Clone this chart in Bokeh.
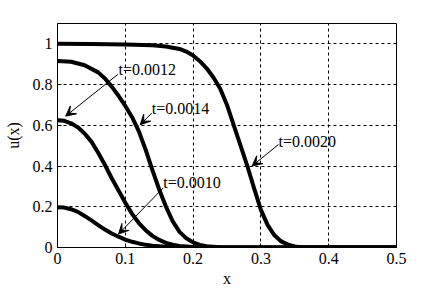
from bokeh.plotting import figure
from bokeh.models import FixedTicker, Label, Arrow, VeeHead, Range1d
from bokeh.embed import file_html
from bokeh.resources import INLINE

# ---- data ----
x_t0010 = [0, 0.01, 0.02, 0.03, 0.04, 0.05, 0.06, 0.07, 0.08, 0.09, 0.10, 0.11, 0.12, 0.13, 0.14, 0.16, 0.18, 0.20, 0.5]
u_t0010 = [0.198, 0.196, 0.188, 0.175, 0.155, 0.133, 0.11, 0.088, 0.069, 0.053, 0.039, 0.028, 0.02, 0.013, 0.009, 0.004, 0.001, 0, 0]

x_t0012 = [0, 0.01, 0.02, 0.03, 0.04, 0.05, 0.06, 0.07, 0.08, 0.09, 0.10, 0.11, 0.12, 0.13, 0.14, 0.15, 0.16, 0.17, 0.18, 0.20, 0.22, 0.5]
u_t0012 = [0.625, 0.622, 0.61, 0.59, 0.56, 0.52, 0.465, 0.405, 0.34, 0.28, 0.22, 0.165, 0.12, 0.085, 0.057, 0.037, 0.023, 0.014, 0.008, 0.002, 0, 0]

x_t0014 = [0, 0.02, 0.04, 0.06, 0.07, 0.08, 0.09, 0.10, 0.11, 0.12, 0.13, 0.14, 0.15, 0.16, 0.17, 0.18, 0.19, 0.20, 0.21, 0.22, 0.24, 0.26, 0.5]
u_t0014 = [0.916, 0.912, 0.895, 0.86, 0.83, 0.79, 0.745, 0.695, 0.64, 0.57, 0.48, 0.38, 0.285, 0.2, 0.128, 0.077, 0.045, 0.025, 0.013, 0.006, 0.001, 0, 0]

x_t0020 = [0, 0.05, 0.10, 0.14, 0.16, 0.18, 0.19, 0.20, 0.21, 0.22, 0.23, 0.24, 0.25, 0.26, 0.27, 0.28, 0.29, 0.30, 0.31, 0.32, 0.33, 0.34, 0.35, 0.36, 0.38, 0.5]
u_t0020 = [1.0, 0.999, 0.997, 0.993, 0.987, 0.975, 0.962, 0.943, 0.915, 0.88, 0.835, 0.78, 0.70, 0.60, 0.50, 0.40, 0.29, 0.185, 0.11, 0.06, 0.03, 0.014, 0.005, 0.001, 0, 0]

x_ticks = [0, 0.1, 0.2, 0.3, 0.4, 0.5]
y_ticks = [0, 0.2, 0.4, 0.6, 0.8, 1.0]

ann_text = ["t=0.0012", "t=0.0014", "t=0.0020", "t=0.0010"]
ann_x = [0.090, 0.139, 0.326, 0.156]
ann_y = [0.872, 0.685, 0.522, 0.318]
arr_x0 = [0.089, 0.139, 0.326, 0.156]
arr_y0 = [0.850, 0.660, 0.506, 0.293]
arr_x1 = [0.012, 0.122, 0.287, 0.090]
arr_y1 = [0.645, 0.603, 0.400, 0.066]

FONT = "Liberation Serif"

p = figure(width=430, height=293, output_backend="svg", toolbar_location=None,
           x_range=Range1d(0, 0.5), y_range=Range1d(0, 1.1),
           min_border_left=57, min_border_right=34, min_border_top=23, min_border_bottom=46)
p.background_fill_color = "white"
p.border_fill_color = "white"
p.outline_line_color = "black"
p.outline_line_width = 1

for ax, ticks in ((p.xaxis[0], x_ticks), (p.yaxis[0], y_ticks)):
    ax.ticker = FixedTicker(ticks=ticks)
    ax.major_tick_in = 4
    ax.major_tick_out = 0
    ax.minor_tick_in = 0
    ax.minor_tick_out = 0
    ax.axis_line_color = "black"
    ax.major_tick_line_color = "black"
    ax.major_label_text_font = FONT
    ax.major_label_text_font_size = "16px"
    ax.major_label_text_color = "black"
    ax.major_label_standoff = 5
    ax.axis_label_text_font = FONT
    ax.axis_label_text_font_size = "16px"
    ax.axis_label_text_font_style = "normal"
    ax.axis_label_text_color = "black"

p.yaxis.axis_label = "u(x)"
p.yaxis.axis_label_standoff = 8
p.xaxis.axis_label = "x"
p.xaxis.axis_label_standoff = 3

for g, ticks in ((p.xgrid[0], x_ticks), (p.ygrid[0], y_ticks)):
    g.ticker = FixedTicker(ticks=ticks)
    g.grid_line_color = "black"
    g.grid_line_dash = "3 3"
    g.grid_line_width = 1

for xs, us in ((x_t0010, u_t0010), (x_t0012, u_t0012), (x_t0014, u_t0014), (x_t0020, u_t0020)):
    p.line(xs, us, line_color="black", line_width=4, line_join="round", line_cap="round")

for t, tx, ty, x0, y0, x1, y1 in zip(ann_text, ann_x, ann_y, arr_x0, arr_y0, arr_x1, arr_y1):
    p.add_layout(Arrow(x_start=x0, y_start=y0, x_end=x1, y_end=y1, line_color="black", line_width=1,
                       end=VeeHead(size=10, fill_color="black", line_color="black", line_width=1)))
    p.add_layout(Label(x=tx, y=ty, text=t, text_font=FONT, text_font_size="16px",
                       text_color="black", text_baseline="alphabetic", text_align="left"))

open("out.html", "w").write(file_html(p, INLINE))
